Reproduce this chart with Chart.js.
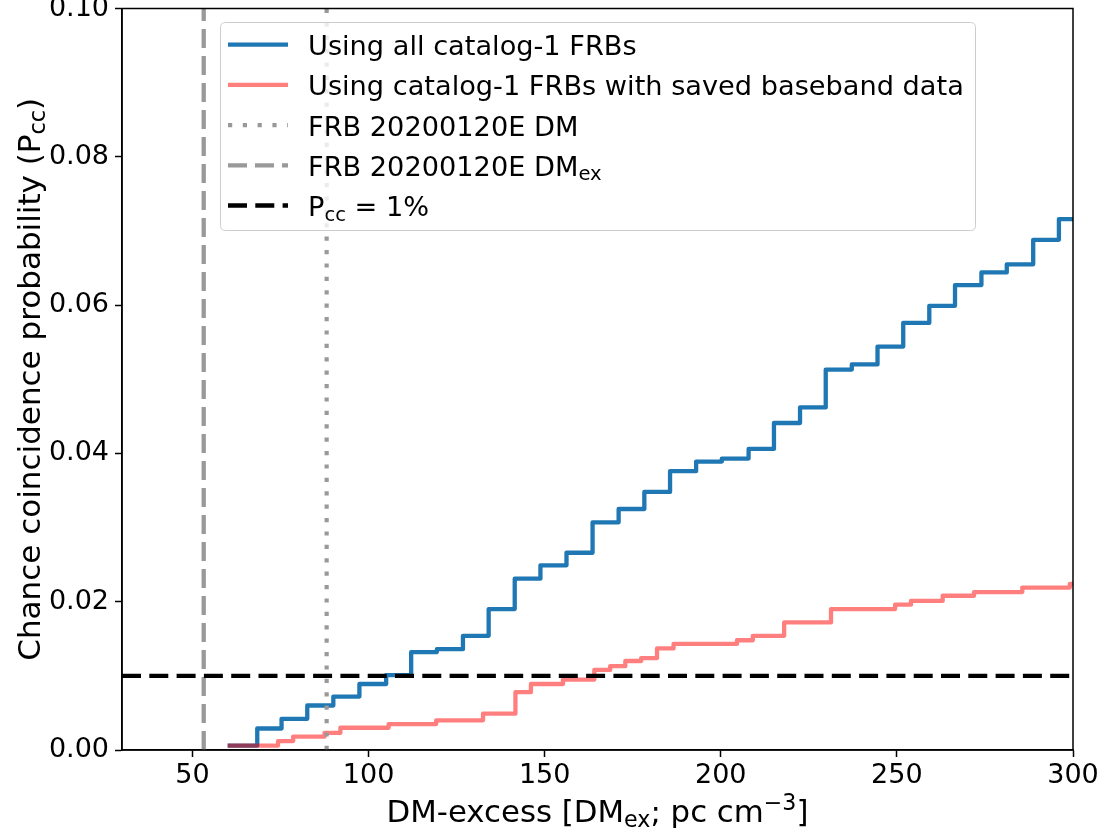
<!DOCTYPE html>
<html><head><meta charset="utf-8">
<script src="https://cdn.jsdelivr.net/npm/chart.js@4.4.1/dist/chart.umd.min.js"></script>
<style>html,body{margin:0;padding:0;background:#fff;} #wrap{width:1104px;height:833px;position:relative;}</style>
</head><body><div id="wrap"><canvas id="c" width="1104" height="833"></canvas></div>
<script>
// ---- data ----
const blueX = [60, 68.4, 75.3, 82.6, 90.0, 97.4, 105.0, 112.1, 119.4, 126.8, 134.1, 141.5, 148.8, 156.2, 163.6, 171.0, 178.3, 185.6, 193.0, 200.3, 207.9, 215.1, 222.5, 229.8, 237.2, 244.5, 251.8, 259.2, 266.5, 274.0, 281.2, 288.7, 296.0, 300];
const blueY = [0.0006, 0.0029, 0.0042, 0.0060, 0.0072, 0.0089, 0.0101, 0.0132, 0.0136, 0.0154, 0.0190, 0.0231, 0.0249, 0.0266, 0.0307, 0.0325, 0.0348, 0.0376, 0.0389, 0.0393, 0.0406, 0.0441, 0.0462, 0.0513, 0.0520, 0.0544, 0.0576, 0.0599, 0.0627, 0.0644, 0.0655, 0.0688, 0.0716, 0.0716];
const redX = [60, 74.3, 78.6, 87.5, 92.0, 105.7, 119.2, 132.5, 141.7, 146.1, 155.2, 164.1, 168.6, 172.9, 177.4, 181.9, 186.6, 204.6, 209.1, 218.0, 231.3, 249.5, 254.0, 263.0, 271.9, 285.6, 299.1, 300];
const redY = [0.0006, 0.0012, 0.0018, 0.0023, 0.0030, 0.0035, 0.0040, 0.0049, 0.0078, 0.0089, 0.0095, 0.0108, 0.0113, 0.0120, 0.0124, 0.0137, 0.0143, 0.0148, 0.0154, 0.0172, 0.0190, 0.0196, 0.0201, 0.0208, 0.0213, 0.0219, 0.0224, 0.0224];
const frbDM = 88.1;       // FRB 20200120E DM
const frbDMex = 53.2;     // FRB 20200120E DM_ex
const pccThreshold = 0.01;
const xRange = [30, 300];
const yRange = [0, 0.10];
const xTicks = [50, 100, 150, 200, 250, 300];
const yTicks = [0.00, 0.02, 0.04, 0.06, 0.08, 0.10];
const legendLabels = [
  [['Using all catalog-1 FRBs', 0]],
  [['Using catalog-1 FRBs with saved baseband data', 0]],
  [['FRB 20200120E DM', 0]],
  [['FRB 20200120E DM', 0], ['ex', 1]],
  [['P', 0], ['cc', 1], [' = 1%', 0]]
];
const xTitle = [['DM-excess [DM', 0], ['ex', 1], ['; pc cm', 0], ['\u22123', 2], [']', 0]];
const yTitle = [['Chance coincidence probability (P', 0], ['cc', 1], [')', 0]];

// ---- styles ----
const FONT = '"DejaVu Sans", sans-serif';
const BLUE = '#1f77b4', RED = 'rgba(255,0,0,0.5)', GRAY = '#999999';
const LW = 4.3;
const styles = [
  {color: BLUE, width: LW, dash: []},
  {color: RED, width: LW, dash: []},
  {color: GRAY, width: 4.2, dash: [4.2, 9.2]},
  {color: GRAY, width: LW, dash: [19, 8]},
  {color: '#000', width: LW, dash: [19, 8.3]}
];

function pts(xs, ys) { return xs.map((x, i) => ({x: x, y: ys[i]})); }

function drawRich(ctx, parts, x, y, size, align) {
  let w = 0;
  for (const p of parts) { ctx.font = (p[1] ? size * 0.72 : size) + 'px ' + FONT; w += ctx.measureText(p[0]).width; }
  let cx = align === 'center' ? x - w / 2 : x;
  ctx.textAlign = 'left'; ctx.textBaseline = 'alphabetic';
  for (const p of parts) {
    const s = p[1] ? size * 0.72 : size;
    ctx.font = s + 'px ' + FONT;
    const dy = p[1] === 1 ? size * 0.17 : (p[1] === 2 ? -size * 0.4 : 0);
    ctx.fillText(p[0], cx, y + dy);
    cx += ctx.measureText(p[0]).width;
  }
}

const decor = {
  id: 'decor',
  afterDatasetsDraw(chart) {
    const ctx = chart.ctx, a = chart.chartArea;
    ctx.save();
    ctx.strokeStyle = '#000'; ctx.lineWidth = 1.5; ctx.setLineDash([]);
    ctx.strokeRect(a.left, a.top, a.right - a.left, a.bottom - a.top);
    // legend box
    const bx = 220.5, by = 22.5, bw = 755, bh = 208, r = 5;
    ctx.beginPath();
    ctx.moveTo(bx + r, by); ctx.lineTo(bx + bw - r, by); ctx.quadraticCurveTo(bx + bw, by, bx + bw, by + r);
    ctx.lineTo(bx + bw, by + bh - r); ctx.quadraticCurveTo(bx + bw, by + bh, bx + bw - r, by + bh);
    ctx.lineTo(bx + r, by + bh); ctx.quadraticCurveTo(bx, by + bh, bx, by + bh - r);
    ctx.lineTo(bx, by + r); ctx.quadraticCurveTo(bx, by, bx + r, by); ctx.closePath();
    ctx.fillStyle = 'rgba(255,255,255,0.8)'; ctx.fill();
    ctx.strokeStyle = '#cccccc'; ctx.lineWidth = 1; ctx.stroke();
    const rowY0 = 44.7, rowDY = 40.2;
    legendLabels.forEach((parts, i) => {
      const cy = rowY0 + i * rowDY, st = styles[i];
      ctx.beginPath(); ctx.strokeStyle = st.color; ctx.lineWidth = st.width; ctx.lineCap = 'butt';
      ctx.setLineDash(i === 2 ? [4.2, 10.6] : st.dash); ctx.moveTo(228, cy); ctx.lineTo(288, cy); ctx.stroke();
      ctx.setLineDash([]);
      ctx.fillStyle = '#000';
      drawRich(ctx, parts, 308, cy + 10.5, 27.2, 'left');
    });
    // axis titles
    ctx.fillStyle = '#000';
    drawRich(ctx, xTitle, (a.left + a.right) / 2, 822, 30.8, 'center');
    ctx.save();
    ctx.translate(40, (a.top + a.bottom) / 2);
    ctx.rotate(-Math.PI / 2);
    drawRich(ctx, yTitle, 0, 0, 31, 'center');
    ctx.restore();
    ctx.restore();
  }
};

const tickFont = {family: FONT, size: 27};
new Chart(document.getElementById('c').getContext('2d'), {
  type: 'line',
  data: {
    datasets: [
      {data: pts(blueX, blueY), borderColor: BLUE, borderWidth: LW, stepped: 'before', pointRadius: 0, fill: false, order: 5, borderJoinStyle: 'round', borderCapStyle: 'butt'},
      {data: pts(redX, redY), borderColor: RED, borderWidth: LW, stepped: 'before', pointRadius: 0, fill: false, order: 4, borderJoinStyle: 'round', borderCapStyle: 'butt'},
      {data: [{x: frbDM, y: yRange[0]}, {x: frbDM, y: yRange[1]}], borderColor: GRAY, borderWidth: styles[2].width, borderDash: styles[2].dash, pointRadius: 0, order: 3, borderCapStyle: 'butt'},
      {data: [{x: frbDMex, y: yRange[0]}, {x: frbDMex, y: yRange[1]}], borderColor: GRAY, borderWidth: LW, borderDash: styles[3].dash, pointRadius: 0, order: 2, borderCapStyle: 'butt'},
      {data: [{x: xRange[0], y: pccThreshold}, {x: xRange[1], y: pccThreshold}], borderColor: '#000', borderWidth: LW, borderDash: styles[4].dash, pointRadius: 0, order: 1, borderCapStyle: 'butt'}
    ]
  },
  options: {
    responsive: false, animation: false, devicePixelRatio: 1,
    layout: {padding: {top: 8.5, right: 31, left: 0, bottom: 0}},
    plugins: {legend: {display: false}, tooltip: {enabled: false}},
    scales: {
      x: {
        type: 'linear', min: xRange[0], max: xRange[1],
        afterBuildTicks: s => { s.ticks = xTicks.map(v => ({value: v})); },
        afterFit: s => { s.height = 83; s.paddingLeft = 0; s.paddingRight = 0; },
        grid: {drawOnChartArea: false, tickLength: 7, tickWidth: 1.5, tickColor: '#000'},
        border: {color: '#000', width: 1.5},
        ticks: {font: tickFont, color: '#000', padding: 3, maxRotation: 0, autoSkip: false}
      },
      y: {
        type: 'linear', min: yRange[0], max: yRange[1],
        afterBuildTicks: s => { s.ticks = yTicks.map(v => ({value: v})); },
        afterFit: s => { s.width = 122; s.paddingTop = 0; s.paddingBottom = 0; },
        grid: {drawOnChartArea: false, tickLength: 7, tickWidth: 1.5, tickColor: '#000'},
        border: {color: '#000', width: 1.5},
        ticks: {font: tickFont, color: '#000', padding: 6, autoSkip: false, callback: v => v.toFixed(2)}
      }
    }
  },
  plugins: [decor]
});
</script></body></html>
